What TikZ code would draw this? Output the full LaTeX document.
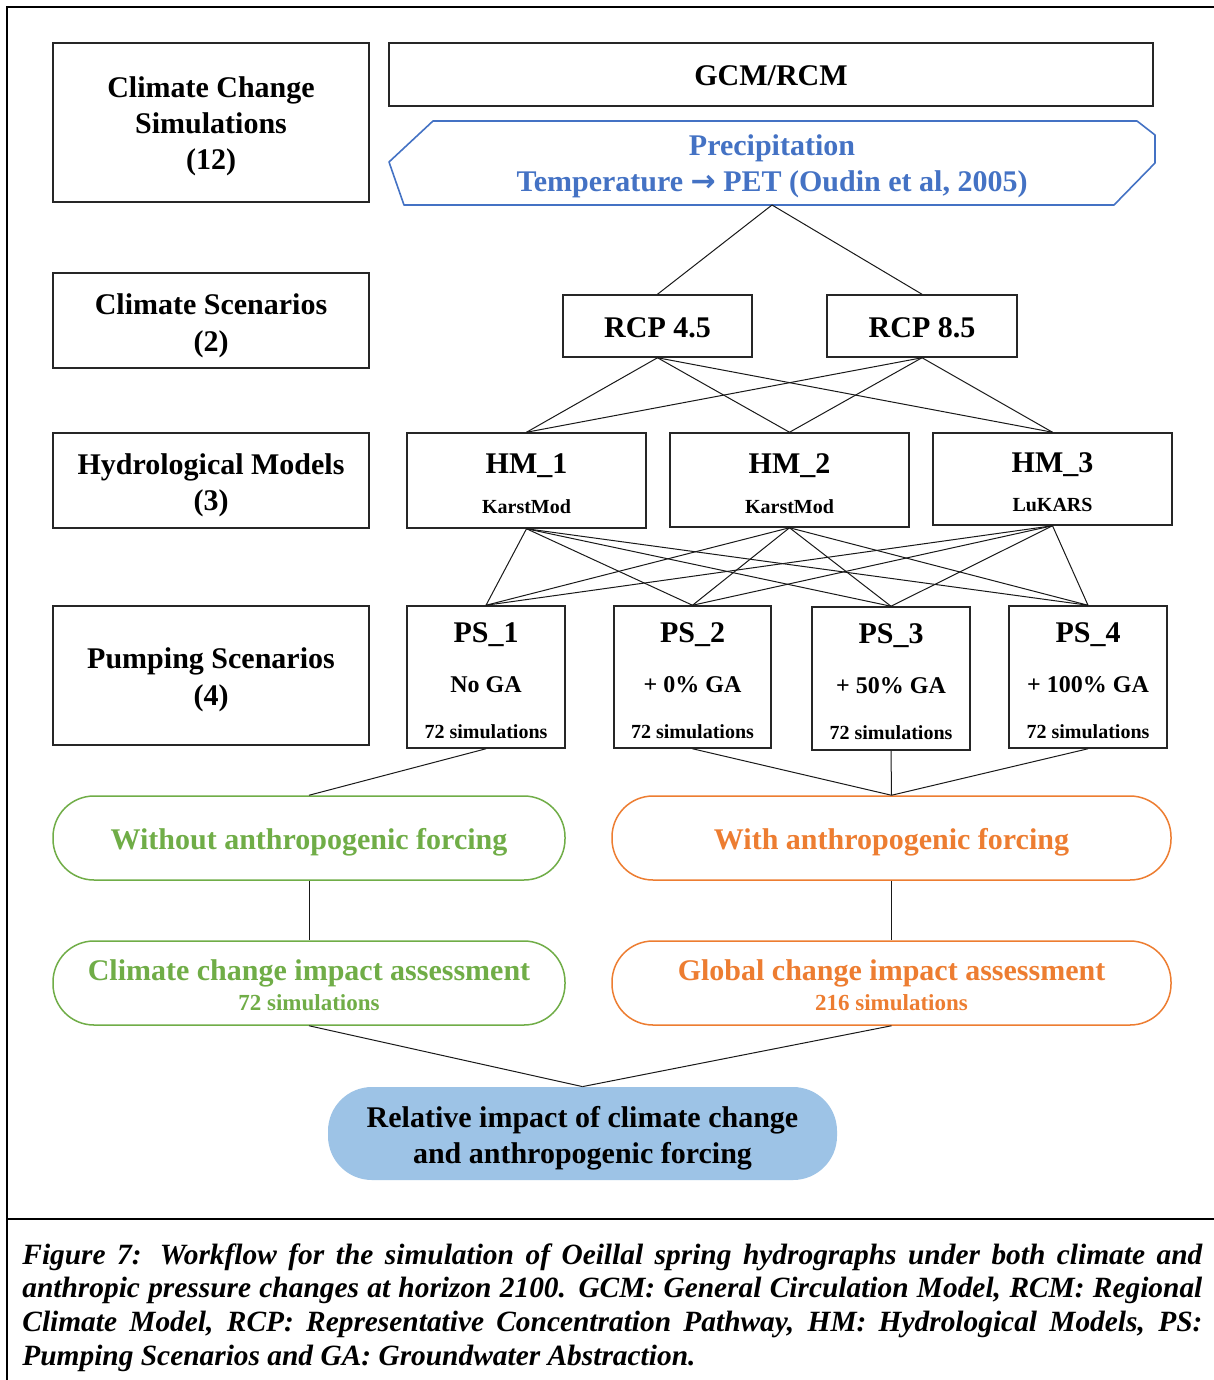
\documentclass[tikz,border=0pt]{standalone}
\usepackage{fontspec}
\setmainfont{Liberation Serif}
\newfontfamily\symfnt{DejaVu Sans}
\definecolor{cblue}{HTML}{4472C4}
\definecolor{cgreen}{HTML}{70AD47}
\definecolor{corange}{HTML}{ED7D31}
\definecolor{cfill}{HTML}{9DC3E6}
\begin{document}
\begin{tikzpicture}[x=0.5pt,y=-0.5pt,
  box/.style={draw=black!85, line width=0.75pt, inner sep=0pt, rectangle},
  conn/.style={draw=black!90, line width=0.5pt},
  pill/.style={draw, line width=0.75pt, rounded corners=20.5pt, inner sep=0pt, rectangle, minimum height=42pt},
  tl/.style={inner sep=0pt, anchor=base, font=\bfseries\fontsize{15}{18}\selectfont},
  tm/.style={inner sep=0pt, anchor=base, font=\bfseries\fontsize{12}{14}\selectfont},
  tn/.style={inner sep=0pt, anchor=base, font=\bfseries\fontsize{11.5}{14}\selectfont},
  ts/.style={inner sep=0pt, anchor=base, font=\bfseries\fontsize{10}{12}\selectfont}
]
\useasboundingbox (0,0) rectangle (1214,1380);
\fill[white] (0,0) rectangle (1214,1380);

% outer frame
\draw[line width=1.2pt] (7,1380) -- (7,7) -- (1214,7);
\draw[line width=1.2pt] (7,1219) -- (1214,1219);

% left column
\node[box,minimum width=158pt,minimum height=79.5pt] (lcc) at (211,122.5) {};
\node[tl] (lcc1) at (211,98) {Climate Change};
\node[tl] (lcc2) at (211,134) {Simulations};
\node[tl] (lcc3) at (211,170) {(12)};

\node[box,minimum width=158pt,minimum height=47.5pt] (lcs) at (211,320.5) {};
\node[tl] (lcs1) at (211,314) {Climate Scenarios};
\node[tl] (lcs2) at (211,351) {(2)};

\node[box,minimum width=158pt,minimum height=47.5pt] (lhm) at (211,480.5) {};
\node[tl] (lhm1) at (211,474) {Hydrological Models};
\node[tl] (lhm2) at (211,510) {(3)};

\node[box,minimum width=158pt,minimum height=69.5pt] (lps) at (211,675.5) {};
\node[tl] (lps1) at (211,668) {Pumping Scenarios};
\node[tl] (lps2) at (211,705) {(4)};

% GCM/RCM
\node[box,minimum width=382pt,minimum height=31.5pt] (gcm) at (771,74.5) {};
\node[tl] (gcmt) at (771,86) {GCM/RCM};

% hexagon
\draw[cblue, line width=0.8pt, line join=round] (433,121) -- (1137,121) -- (1155,135) -- (1155,163) -- (1114,205) -- (404,205) -- (389,162) -- cycle;
\coordinate (hexb) at (772,205);
\node[tl, text=cblue] (hex1) at (772,156) {Precipitation};
\node[tl, text=cblue] (hex2) at (772,192) {Temperature {\symfnt\bfseries\fontsize{15}{18}\selectfont →} PET (Oudin et al, 2005)};

% RCP
\node[box,minimum width=94.5pt,minimum height=31pt] (rcp45) at (657.5,326) {};
\node[tl] (rcp45t) at (657.5,337) {RCP 4.5};
\node[box,minimum width=95pt,minimum height=31pt] (rcp85) at (922,326) {};
\node[tl] (rcp85t) at (922,337) {RCP 8.5};

% HM
\node[box,minimum width=119.5pt,minimum height=47.5pt] (hm1) at (526.5,480.5) {};
\node[tl] (hm1a) at (526.5,473) {HM\_1};
\node[ts] (hm1b) at (526.5,513) {KarstMod};
\node[box,minimum width=119.5pt,minimum height=47pt] (hm2) at (789.5,480) {};
\node[tl] (hm2a) at (789.5,473) {HM\_2};
\node[ts] (hm2b) at (789.5,513) {KarstMod};
\node[box,minimum width=119.5pt,minimum height=46pt] (hm3) at (1052.5,479) {};
\node[tl] (hm3a) at (1052.5,472) {HM\_3};
\node[ts] (hm3b) at (1052.5,511) {LuKARS};

% PS
\node[box,minimum width=79pt,minimum height=71pt] (ps1) at (486,677) {};
\node[tl] (ps1a) at (486,642) {PS\_1};
\node[tm] (ps1b) at (486,692) {No GA};
\node[ts] (ps1c) at (486,738) {72 simulations};
\node[box,minimum width=78.5pt,minimum height=71pt] (ps2) at (692.5,677) {};
\node[tl] (ps2a) at (692.5,642) {PS\_2};
\node[tm] (ps2b) at (692.5,692) {+ 0\% GA};
\node[ts] (ps2c) at (692.5,738) {72 simulations};
\node[box,minimum width=79pt,minimum height=71.5pt] (ps3) at (891,678.5) {};
\node[tl] (ps3a) at (891,643) {PS\_3};
\node[tm] (ps3b) at (891,693) {+ 50\% GA};
\node[ts] (ps3c) at (891,739) {72 simulations};
\node[box,minimum width=79pt,minimum height=71pt] (ps4) at (1088,677) {};
\node[tl] (ps4a) at (1088,642) {PS\_4};
\node[tm] (ps4b) at (1088,692) {+ 100\% GA};
\node[ts] (ps4c) at (1088,738) {72 simulations};

% forcing pills
\node[pill, draw=cgreen, minimum width=256pt] (wo) at (309,838) {};
\node[tl, text=cgreen] (wot) at (309,849) {Without anthropogenic forcing};
\node[pill, draw=corange, minimum width=279.5pt] (wi) at (891.5,838) {};
\node[tl, text=corange] (wit) at (891.5,849) {With anthropogenic forcing};

% assessment pills
\node[pill, draw=cgreen, minimum width=256pt] (cca) at (309,983) {};
\node[tl, text=cgreen] (cca1) at (309,980) {Climate change impact assessment};
\node[tn, text=cgreen] (cca2) at (309,1010) {72 simulations};
\node[pill, draw=corange, minimum width=279.5pt] (gca) at (891.5,983) {};
\node[tl, text=corange] (gca1) at (891.5,980) {Global change impact assessment};
\node[tn, text=corange] (gca2) at (891.5,1010) {216 simulations};

% relative impact
\node[rectangle, fill=cfill, rounded corners=22pt, inner sep=0pt, minimum width=254.5pt, minimum height=46.5pt] (rel) at (582.5,1133.5) {};
\node[tl] (rel1) at (582.5,1127) {Relative impact of climate change};
\node[tl] (rel2) at (582.5,1163) {and anthropogenic forcing};

% connectors
\draw[conn] (hexb) -- (rcp45.north);
\draw[conn] (hexb) -- (rcp85.north);
\foreach \r in {rcp45,rcp85}{
  \foreach \h in {hm1,hm2,hm3}{
    \draw[conn] (\r.south) -- (\h.north);
  }
}
\foreach \h in {hm1,hm2,hm3}{
  \foreach \p in {ps1,ps2,ps3,ps4}{
    \draw[conn] (\h.south) -- (\p.north);
  }
}
\draw[conn] (ps1.south) -- (wo.north);
\draw[conn] (ps2.south) -- (wi.north);
\draw[conn] (ps3.south) -- (wi.north);
\draw[conn] (ps4.south) -- (wi.north);
\draw[conn] (wo.south) -- (cca.north);
\draw[conn] (wi.south) -- (gca.north);
\draw[conn] (cca.south) -- (rel.north);
\draw[conn] (gca.south) -- (rel.north);

% caption
\node[anchor=north west, inner sep=0pt, text width=590pt, align=justify,
      font=\bfseries\itshape\fontsize{14.7}{16.85}\selectfont] (cap) at (22,1243)
{\hyphenpenalty=10000 Figure 7: Workflow for the simulation of Oeillal spring hydrographs under both climate and\linebreak anthropic pressure changes at horizon 2100. GCM: General Circulation Model, RCM: Regional\linebreak Climate Model, RCP: Representative Concentration Pathway, HM: Hydrological Models, PS:\linebreak Pumping Scenarios and GA: Groundwater Abstraction.};
\end{tikzpicture}
\end{document}
